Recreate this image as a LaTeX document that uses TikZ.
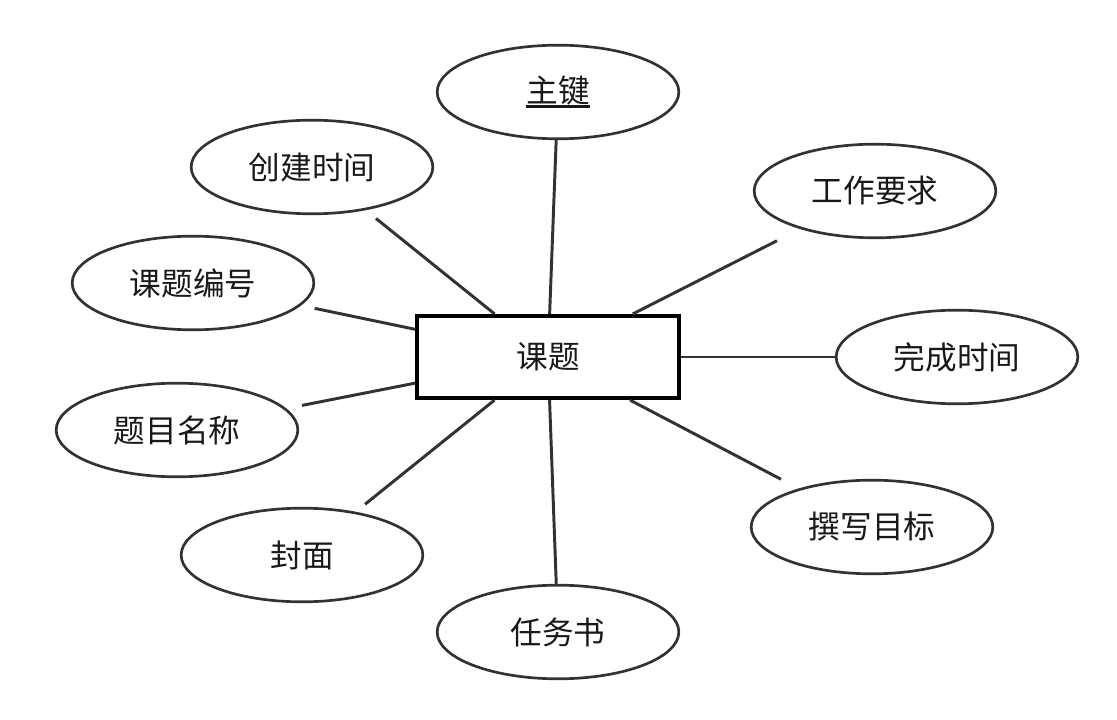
\documentclass[tikz,border=0pt]{standalone}
\usepackage{fontspec}
\newfontfamily\cjk{Noto Sans CJK SC}
\usetikzlibrary{shapes.geometric}
\definecolor{edge}{RGB}{50,50,50}
\definecolor{ink}{RGB}{25,25,25}
\newcommand\pkey[1]{\setbox0\hbox{#1}\rlap{\rule[-4.4pt]{\wd0}{2.3pt}}\box0}

\begin{document}
\begin{tikzpicture}[x=0.025cm, y=-0.025cm,
  entity/.style={draw=black, line width=2.9pt, rectangle, minimum width=6.53cm, minimum height=2.05cm, inner sep=0pt, font=\cjk\fontsize{22.5}{27}\selectfont, text=ink},
  attr/.style={draw=edge, line width=1.9pt, ellipse, minimum width=6.04cm, minimum height=2.34cm, inner sep=0pt, font=\cjk\fontsize{22.5}{27}\selectfont, text=ink},
  link/.style={draw=edge, line width=2.1pt}]
\useasboundingbox (0,0) rectangle (1117,720);
\node[entity] (kt) at (548,357) {课题};
\foreach \n/\x/\y/\t in {zj/558/92/{\pkey{主键}}, cj/312/167/{创建时间}, gz/875/191/{工作要求}, bh/193/283/{课题编号}, wc/957/357/{完成时间}, mc/177/430/{题目名称}, zx/872/527/{撰写目标}, fm/302/555/{封面}, rw/558/632/{任务书}}
  { \node[attr] (\n) at (\x,\y) {\t}; }
% lines stop a little short of some ellipses
\foreach \n/\g in {zj/0, cj/0.33, gz/0.65, bh/0.35, wc/0, mc/0.4, zx/0.5, fm/0.3, rw/0}
  { \draw[link, shorten >=\g cm] (kt) -- (\n); }
\end{tikzpicture}
\end{document}
